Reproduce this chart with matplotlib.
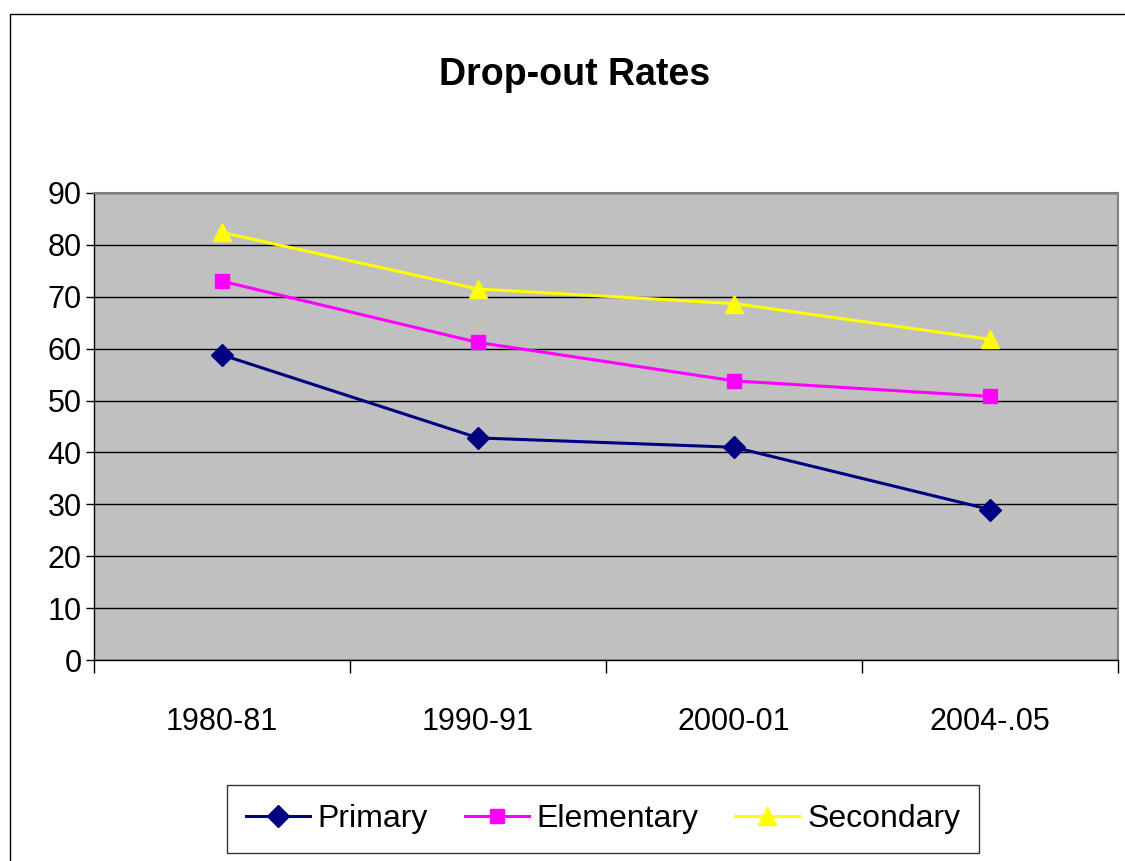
import matplotlib
matplotlib.use("Agg")
import matplotlib.pyplot as plt
from matplotlib.patches import Rectangle

plt.rcParams['font.family'] = ['Liberation Sans Narrow', 'Liberation Sans', 'DejaVu Sans']

# data
years = ['1980-81', '1990-91', '2000-01', '2004-.05']
primary = [58.8, 42.8, 41.0, 29.0]
elementary = [73.0, 61.2, 53.8, 50.8]
secondary = [82.4, 71.5, 68.7, 61.8]

fig = plt.figure(figsize=(11.25, 8.61), dpi=100)
ax = fig.add_axes([94/1125, 1 - 660/861, 1024/1125, 467/861])
ax.set_facecolor('#C0C0C0')

x = list(range(len(years)))
ax.plot(x, primary, color='#000080', marker='D', markersize=11, linewidth=2.2, label='Primary', zorder=3)
ax.plot(x, elementary, color='#FF00FF', marker='s', markersize=10, linewidth=2.2, label='Elementary', zorder=3)
ax.plot(x, secondary, color='#FFFF00', marker='^', markersize=13, linewidth=2.2, label='Secondary', zorder=3)

ax.set_xlim(-0.5, len(years) - 0.5)
ax.set_ylim(0, 90)
ax.set_yticks(range(0, 91, 10))
ax.yaxis.grid(True, color='black', linewidth=1)
ax.set_axisbelow(True)

# category labels between boundary ticks, Excel style
ax.set_xticks(x)
ax.set_xticklabels(years)
ax.set_xticks([i - 0.5 for i in range(len(years) + 1)], minor=True)
ax.tick_params(axis='x', which='major', length=0, pad=34, labelsize=22)
ax.tick_params(axis='x', which='minor', length=9, width=1, direction='out')
ax.tick_params(axis='y', length=6, width=1, direction='out', labelsize=22, pad=3)

for side in ['top', 'right']:
    ax.spines[side].set_color('#808080')
    ax.spines[side].set_linewidth(1.5)
for side in ['left', 'bottom']:
    ax.spines[side].set_color('black')
    ax.spines[side].set_linewidth(1)

fig.text(575/1125, 1 - 75/861, 'Drop-out Rates', ha='center', va='center',
         fontsize=27, fontweight='bold')

leg = fig.legend(loc='center', bbox_to_anchor=(603/1125, 1 - 819/861), ncol=3,
                 fontsize=23, frameon=True, fancybox=False, edgecolor='black',
                 handlelength=2.0, columnspacing=1.15, handletextpad=0.25,
                 borderpad=0.6)
leg.get_frame().set_linewidth(1)

# outer chart border
fig.patches.append(Rectangle((10/1125, -0.01), 1.0, 1 - 14/861 + 0.01,
                             transform=fig.transFigure, fill=False,
                             edgecolor='black', linewidth=1))

fig.savefig('out.png', dpi=100)
